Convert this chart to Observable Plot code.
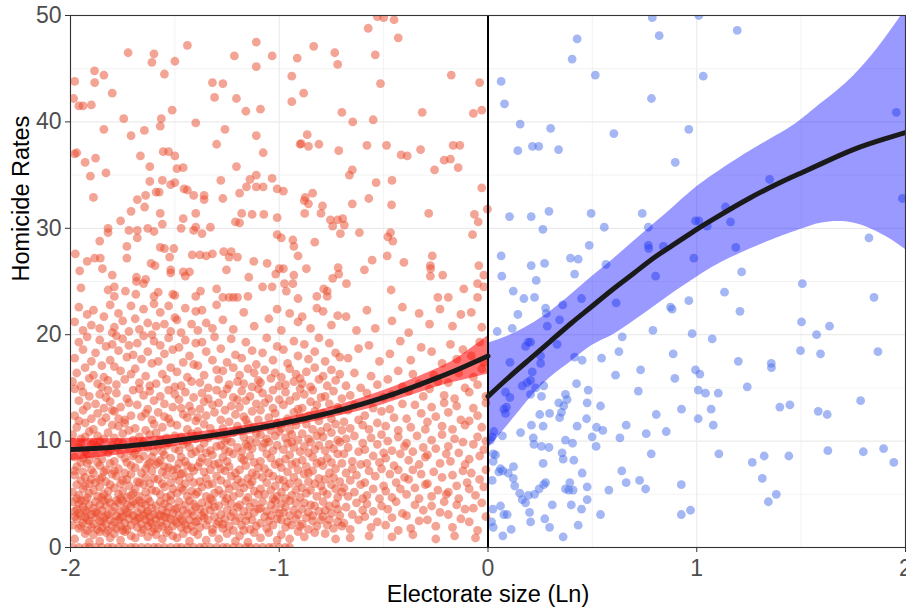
<!DOCTYPE html>
<html><head><meta charset="utf-8">
<script src="https://cdn.jsdelivr.net/npm/d3@7"></script>
<script src="https://cdn.jsdelivr.net/npm/@observablehq/plot@0.6"></script>
<style>body{margin:0;background:#fff}</style>
</head><body><div id="chart"></div>
<script>
const xTicks = [-2, -1, 0, 1, 2];
const yTicks = [0, 10, 20, 30, 40, 50];
const xMinor = [-1.5, -0.5, 0.5, 1.5];
const yMinor = [5, 15, 25, 35, 45];
const xTitle = "Electorate size (Ln)";
const yTitle = "Homicide Rates";

// red group (x < 0), sparse upper part
const redUpper = [
[-1.98,43.8],[-1.985,42.2],[-1.96,41.5],[-1.94,41.5],[-1.885,44.8],[-1.884,43.7],[-1.90,41.6],[-1.84,44.4],[-1.80,42.7],[-1.724,46.5],[-1.745,40.3],[-1.84,39.3],[-1.71,38.7],[-1.646,39.2],[-1.61,45.6],[-1.60,46.4],[-1.55,44.5],[-1.565,40.3],[-1.57,39.6],[-1.513,41.1],[-1.50,45.7],[-1.44,47.2],[-1.40,39.9],[-1.32,43.7],[-1.31,42.3],[-1.27,43.6],[-1.26,39.3],[-1.30,37.9],[-1.215,46.2],[-1.205,42.2],[-1.16,41.0],[-1.11,47.5],[-1.11,45.2],[-1.09,41.2],[-1.11,38.7],[-1.034,46.2],[-0.94,44.3],[-0.94,41.9],[-0.914,46.0],[-0.90,37.9],
[-1.98,37.0],[-1.97,37.1],[-1.93,36.2],[-1.88,36.6],[-1.83,35.2],[-1.905,34.9],[-1.89,32.9],[-1.665,36.8],[-1.62,35.8],[-1.556,37.2],[-1.53,37.2],[-1.50,36.8],[-1.49,35.6],[-1.46,35.7],[-1.62,34.4],[-1.56,34.5],[-1.52,34.1],[-1.50,34.3],[-1.59,33.4],[-1.575,33.4],[-1.64,33.1],[-1.68,32.7],[-1.645,32.0],[-1.71,31.6],[-1.57,31.4],[-1.76,30.7],[-1.82,30.0],[-1.82,29.6],[-1.72,29.8],[-1.68,29.8],[-1.68,29.1],[-1.63,30.0],[-1.60,29.7],[-1.56,30.4],[-1.456,33.7],[-1.44,33.6],[-1.41,33.1],[-1.36,33.1],[-1.36,32.7],[-1.40,31.4],[-1.46,30.9],[-1.47,30.0],[-1.41,29.8],[-1.40,30.1],[-1.37,29.5],[-1.33,30.1],[-1.28,34.5],[-1.27,32.8],[-1.205,35.8],[-1.19,33.3],[-1.157,33.9],[-1.14,34.6],[-1.11,35.0],[-1.11,33.9],[-1.077,37.1],[-1.077,33.9],[-1.034,34.7],[-1.01,33.7],[-0.98,33.5],[-1.18,31.4],[-1.13,31.3],[-1.074,31.3],[-1.21,30.6],[-1.19,30.5],[-1.01,31.0],[-1.01,29.4],[-0.99,29.1],[-0.935,28.9],[-0.93,28.3],[-0.91,27.4],
[-1.977,27.6],[-1.956,26.0],[-1.92,26.9],[-1.884,27.2],[-1.857,27.2],[-1.86,28.8],[-1.847,26.2],[-1.80,25.6],[-1.95,24.4],[-1.82,24.2],[-1.79,24.5],[-1.79,23.6],[-1.737,24.1],[-1.73,27.2],[-1.73,28.3],[-1.684,25.4],[-1.684,25.0],[-1.65,24.8],[-1.64,25.2],[-1.687,23.8],[-1.614,26.7],[-1.595,26.5],[-1.57,28.2],[-1.55,28.1],[-1.525,27.3],[-1.52,26.1],[-1.52,25.8],[-1.505,28.1],[-1.58,24.0],[-1.60,23.6],[-1.51,23.8],[-1.50,23.7],[-1.46,25.9],[-1.43,25.9],[-1.45,25.5],[-1.417,27.5],[-1.38,27.5],[-1.35,27.4],[-1.32,27.6],[-1.377,24.1],[-1.40,23.6],[-1.30,24.3],[-1.266,27.8],[-1.253,26.1],[-1.23,27.8],[-1.24,27.3],[-1.20,27.3],[-1.146,25.4],[-1.122,26.9],[-1.22,23.5],[-1.20,23.5],[-1.15,23.6],[-1.08,24.5],[-1.058,26.7],[-1.034,24.5],[-1.017,25.7],[-1.00,26.2],[-0.98,26.2],[-0.975,24.8],[-0.935,24.8],[-0.966,24.1],[-0.93,25.6],[-1.27,23.5],[-1.24,23.5],
[-0.53,49.9],[-0.50,49.8],[-0.45,49.6],[-0.574,48.8],[-0.43,47.9],[-0.835,47.1],[-0.734,46.5],[-0.72,45.4],[-0.54,46.3],[-0.883,42.7],[-0.70,40.9],[-0.648,40.0],[-0.55,40.2],[-0.515,43.6],[-0.176,44.4],[-0.04,43.7],[-0.315,40.9],[-0.07,40.8],[-0.03,41.1],[-0.866,38.8],[-0.895,37.95],[-0.86,37.7],[-0.81,37.9],[-0.715,37.3],[-0.58,37.8],[-0.486,37.8],[-0.416,36.9],[-0.387,36.8],[-0.323,37.4],[-0.256,35.5],[-0.21,36.4],[-0.18,36.5],[-0.167,37.8],[-0.135,37.8],[-0.143,35.7],[-0.664,35.0],[-0.65,35.5],[-0.536,34.3],[-0.46,34.5],[-0.84,33.3],[-0.875,32.9],[-0.88,32.6],[-0.86,32.3],[-0.793,32.1],[-0.878,31.4],[-0.80,31.4],[-0.65,32.3],[-0.571,32.8],[-0.462,32.2],[-0.755,30.8],[-0.744,30.2],[-0.72,30.8],[-0.696,30.9],[-0.688,30.3],[-0.707,29.5],[-0.616,29.6],[-0.467,29.6],[-0.48,29.2],[-0.456,28.8],[-0.284,31.4],[-0.03,33.8],[-0.065,31.3],[-0.047,30.6],[-0.003,31.8],[-0.074,29.4],[-0.83,28.7],[-0.87,26.2],[-0.718,26.3],[-0.715,25.7],[-0.744,25.3],[-0.678,24.8],[-0.592,26.1],[-0.555,27.0],[-0.483,27.4],[-0.403,26.8],[-0.267,27.4],[-0.276,26.5],[-0.275,26.2],[-0.276,25.5],[-0.217,25.6],[-0.044,26.5],[-0.02,25.6],[-0.05,24.8],[-0.02,24.5],[-0.787,24.3],[-0.77,24.1],[-0.464,24.2],[-0.116,24.3],[-0.24,23.5],[-0.19,23.5],[-0.05,23.5],[-0.82,23.6],[-0.77,23.6],[-0.91,23.4]
];

// red group, dense lower part (below ~23)
const redLower = [
[-1.98,0.8],[-1.93,1.3],[-1.91,0.5],
[-1.99,2.1],[-1.98,3.4],[-1.97,2.7],[-1.96,4.1],[-1.96,1.8],[-1.95,3.0],[-1.94,2.3],[-1.94,3.8],[-1.93,4.4],[-1.93,2.8],[-1.92,1.6],[-1.92,3.3],[-1.91,2.5],[-1.91,4.0],[-1.90,3.1],[-1.99,4.3],[-1.97,3.6],[-1.95,2.0],[-1.93,3.5],[-1.92,2.6],[-1.98,2.9],[-1.95,4.4],[-1.90,1.9],[-1.96,3.2],
[-1.99,5.2],[-1.98,6.8],[-1.98,8.5],[-1.97,5.9],[-1.97,7.6],[-1.96,9.4],[-1.96,4.9],[-1.95,6.3],[-1.95,8.0],[-1.94,7.1],[-1.94,5.5],[-1.93,9.0],[-1.93,6.6],[-1.92,4.7],[-1.92,7.9],[-1.92,8.8],[-1.91,6.0],[-1.91,5.1],[-1.90,7.3],[-1.90,9.7],[-1.99,9.9],[-1.97,4.6],[-1.95,9.8],[-1.94,8.4],[-1.93,5.8],[-1.91,8.2],[-1.90,6.4],[-1.98,7.2],
[-1.99,10.6],[-1.98,12.4],[-1.97,11.3],[-1.96,13.8],[-1.95,10.2],[-1.94,12.9],[-1.94,14.6],[-1.93,11.7],[-1.92,13.3],[-1.91,10.9],[-1.91,14.2],[-1.90,12.1],[-1.98,14.9],[-1.96,11.9],[-1.93,10.4],
[-1.99,15.6],[-1.98,17.8],[-1.97,16.4],[-1.96,19.3],[-1.95,15.2],[-1.94,18.6],[-1.93,16.9],[-1.92,19.8],[-1.91,15.9],[-1.90,17.5],
[-1.98,21.2],[-1.96,22.6],[-1.94,20.4],[-1.92,21.9],[-1.90,20.9],
[-1.89,1.2],[-1.86,0.6],[-1.83,1.4],[-1.81,0.9],
[-1.89,2.2],[-1.89,3.7],[-1.88,2.9],[-1.88,4.3],[-1.87,1.7],[-1.87,3.2],[-1.86,2.5],[-1.86,4.0],[-1.85,3.5],[-1.85,1.9],[-1.84,2.8],[-1.84,4.4],[-1.83,2.2],[-1.83,3.9],[-1.82,3.1],[-1.82,1.6],[-1.81,2.6],[-1.81,4.2],[-1.80,3.4],[-1.80,2.0],[-1.88,3.3],[-1.85,2.4],[-1.83,3.0],[-1.86,1.5],
[-1.89,5.4],[-1.89,7.0],[-1.88,8.7],[-1.88,6.1],[-1.87,9.5],[-1.87,4.8],[-1.86,7.7],[-1.86,5.7],[-1.85,8.3],[-1.85,6.6],[-1.84,9.1],[-1.84,5.0],[-1.83,7.3],[-1.83,6.2],[-1.82,8.9],[-1.82,4.6],[-1.81,5.9],[-1.81,7.9],[-1.80,9.6],[-1.80,6.9],[-1.89,9.9],[-1.87,8.0],[-1.85,4.7],[-1.84,7.1],[-1.82,5.3],[-1.81,9.2],[-1.86,6.4],
[-1.89,11.1],[-1.88,13.5],[-1.87,10.5],[-1.87,12.6],[-1.86,14.4],[-1.85,11.8],[-1.84,10.2],[-1.84,13.1],[-1.83,12.2],[-1.82,14.8],[-1.82,10.8],[-1.81,13.7],[-1.80,11.5],[-1.80,12.9],[-1.86,10.0],[-1.83,14.1],
[-1.89,16.2],[-1.88,18.3],[-1.87,15.4],[-1.86,19.5],[-1.85,17.1],[-1.84,16.0],[-1.83,18.9],[-1.82,15.7],[-1.81,17.6],[-1.80,19.1],[-1.85,15.1],
[-1.89,22.3],[-1.86,20.6],[-1.84,21.7],[-1.81,22.8],[-1.80,20.2],
[-1.79,1.3],[-1.76,0.7],[-1.74,1.5],[-1.71,1.1],
[-1.79,2.4],[-1.79,3.8],[-1.78,3.0],[-1.78,1.8],[-1.77,4.2],[-1.77,2.6],[-1.76,3.4],[-1.76,2.0],[-1.75,4.4],[-1.75,2.9],[-1.74,3.6],[-1.74,2.3],[-1.73,4.0],[-1.73,1.7],[-1.72,3.2],[-1.72,2.7],[-1.71,3.9],[-1.71,2.1],[-1.70,3.0],[-1.70,4.3],[-1.78,4.4],[-1.76,2.8],[-1.73,3.3],[-1.75,1.6],
[-1.79,5.6],[-1.79,8.1],[-1.78,6.7],[-1.78,9.4],[-1.77,5.0],[-1.77,7.4],[-1.76,8.8],[-1.76,6.0],[-1.75,9.8],[-1.75,5.3],[-1.74,7.0],[-1.74,8.4],[-1.73,6.4],[-1.73,4.7],[-1.72,9.1],[-1.72,5.8],[-1.71,7.7],[-1.71,6.9],[-1.70,8.6],[-1.70,5.1],[-1.79,7.2],[-1.77,9.9],[-1.75,6.3],[-1.73,8.0],[-1.71,4.9],[-1.76,4.6],
[-1.79,10.3],[-1.79,12.8],[-1.78,14.5],[-1.77,11.4],[-1.76,13.2],[-1.75,10.7],[-1.74,12.0],[-1.73,14.0],[-1.72,11.0],[-1.72,13.6],[-1.71,12.4],[-1.70,10.1],[-1.70,14.8],[-1.77,12.1],[-1.74,11.7],
[-1.79,17.0],[-1.78,15.3],[-1.77,18.5],[-1.76,16.6],[-1.75,19.6],[-1.74,15.8],[-1.73,17.9],[-1.72,19.0],[-1.71,16.3],[-1.70,18.1],[-1.78,19.9],
[-1.79,20.7],[-1.77,22.0],[-1.75,21.3],[-1.72,20.3],[-1.71,22.7],
[-1.69,0.9],[-1.66,1.4],[-1.63,1.0],[-1.61,1.5],
[-1.69,2.5],[-1.69,4.1],[-1.68,3.3],[-1.68,1.9],[-1.67,2.8],[-1.67,4.4],[-1.66,3.6],[-1.66,2.2],[-1.65,3.0],[-1.65,1.7],[-1.64,4.0],[-1.64,2.6],[-1.63,3.4],[-1.63,2.0],[-1.62,4.3],[-1.62,2.9],[-1.61,3.7],[-1.61,2.3],[-1.60,3.1],[-1.60,1.8],[-1.68,2.7],[-1.66,4.2],[-1.64,3.2],[-1.62,2.4],
[-1.69,5.5],[-1.69,7.5],[-1.68,9.2],[-1.68,6.2],[-1.67,8.3],[-1.67,4.8],[-1.66,7.0],[-1.66,9.7],[-1.65,5.9],[-1.65,8.6],[-1.64,6.6],[-1.64,5.2],[-1.63,7.8],[-1.63,9.4],[-1.62,6.0],[-1.62,8.0],[-1.61,5.4],[-1.61,7.2],[-1.60,9.0],[-1.60,6.5],[-1.69,8.8],[-1.67,6.1],[-1.65,9.9],[-1.63,4.6],[-1.61,8.5],[-1.64,7.4],
[-1.69,11.2],[-1.68,13.4],[-1.67,10.4],[-1.66,12.3],[-1.65,14.3],[-1.64,11.0],[-1.63,13.0],[-1.62,10.6],[-1.62,14.7],[-1.61,12.0],[-1.60,13.8],[-1.60,11.6],[-1.67,14.9],[-1.64,12.6],
[-1.69,16.8],[-1.68,19.2],[-1.67,15.5],[-1.66,17.7],[-1.65,19.9],[-1.64,16.1],[-1.63,18.4],[-1.62,15.2],[-1.61,17.3],[-1.60,19.4],
[-1.69,21.5],[-1.67,20.5],[-1.65,22.4],[-1.63,21.1],[-1.61,20.0],[-1.60,22.9],
[-1.59,1.2],[-1.56,0.8],[-1.54,1.4],[-1.51,1.1],
[-1.59,2.6],[-1.59,3.9],[-1.58,3.1],[-1.58,1.8],[-1.57,4.3],[-1.57,2.4],[-1.56,3.5],[-1.56,2.0],[-1.55,2.9],[-1.55,4.1],[-1.54,3.3],[-1.54,2.2],[-1.53,3.8],[-1.53,1.6],[-1.52,2.7],[-1.52,4.4],[-1.51,3.2],[-1.51,2.0],[-1.50,3.6],[-1.50,2.5],[-1.57,3.0],[-1.54,2.8],
[-1.59,5.3],[-1.59,7.8],[-1.58,9.5],[-1.58,6.4],[-1.57,8.2],[-1.57,5.0],[-1.56,7.1],[-1.56,9.0],[-1.55,5.7],[-1.55,8.7],[-1.54,6.8],[-1.54,4.7],[-1.53,7.5],[-1.53,9.8],[-1.52,6.1],[-1.52,8.4],[-1.51,5.5],[-1.51,7.3],[-1.50,9.3],[-1.50,6.7],[-1.58,8.0],[-1.56,6.0],[-1.54,9.6],[-1.52,4.9],[-1.55,7.6],
[-1.59,10.8],[-1.58,12.7],[-1.57,14.2],[-1.56,11.3],[-1.55,13.5],[-1.54,10.3],[-1.53,12.1],[-1.53,14.8],[-1.52,11.7],[-1.51,13.2],[-1.50,10.5],[-1.50,14.4],[-1.57,10.1],[-1.55,12.3],
[-1.59,15.4],[-1.58,17.5],[-1.57,19.0],[-1.56,16.3],[-1.55,18.2],[-1.54,15.8],[-1.53,19.7],[-1.52,16.9],[-1.51,18.6],[-1.50,15.1],
[-1.59,20.8],[-1.57,22.1],[-1.55,21.0],[-1.53,22.7],[-1.52,20.3],[-1.50,21.6],
[-1.49,0.9],[-1.46,1.3],[-1.43,0.6],[-1.41,1.5],
[-1.49,2.3],[-1.49,3.7],[-1.48,3.0],[-1.48,4.3],[-1.47,1.9],[-1.47,2.7],[-1.46,3.5],[-1.45,2.1],[-1.45,4.0],[-1.44,3.2],[-1.44,1.7],[-1.43,2.6],[-1.43,4.4],[-1.42,3.4],[-1.42,2.0],[-1.41,3.0],[-1.41,4.1],[-1.40,2.4],[-1.40,3.8],[-1.46,2.5],
[-1.49,5.1],[-1.49,7.4],[-1.48,9.1],[-1.48,6.3],[-1.47,8.5],[-1.47,5.6],[-1.46,7.0],[-1.46,9.7],[-1.45,6.0],[-1.45,8.1],[-1.44,4.8],[-1.44,7.7],[-1.43,9.4],[-1.43,6.6],[-1.42,5.3],[-1.42,8.8],[-1.41,7.2],[-1.41,6.1],[-1.40,9.0],[-1.40,5.0],[-1.48,7.9],[-1.46,5.4],[-1.44,9.9],[-1.42,7.5],[-1.47,6.9],
[-1.49,11.5],[-1.48,13.9],[-1.47,10.4],[-1.46,12.5],[-1.45,14.6],[-1.44,11.1],[-1.43,13.3],[-1.42,10.7],[-1.42,12.8],[-1.41,14.1],[-1.40,11.9],[-1.40,10.2],[-1.47,13.1],[-1.44,12.2],
[-1.49,16.5],[-1.48,18.8],[-1.47,15.2],[-1.46,17.4],[-1.45,19.5],[-1.44,16.0],[-1.43,18.0],[-1.42,15.6],[-1.41,17.2],[-1.40,19.2],
[-1.49,21.4],[-1.47,20.2],[-1.45,22.5],[-1.42,21.0],[-1.40,22.2],
[-1.39,1.2],[-1.35,0.7],[-1.32,1.4],
[-1.39,2.5],[-1.38,3.6],[-1.38,1.9],[-1.37,4.2],[-1.36,2.8],[-1.36,3.3],[-1.35,2.1],[-1.34,4.0],[-1.34,2.6],[-1.33,3.5],[-1.32,1.7],[-1.32,4.4],[-1.31,2.9],[-1.31,3.8],[-1.30,2.2],[-1.37,3.0],
[-1.39,5.2],[-1.39,7.6],[-1.38,9.3],[-1.38,6.2],[-1.37,8.4],[-1.37,5.7],[-1.36,7.1],[-1.36,9.8],[-1.35,6.5],[-1.35,4.8],[-1.34,8.0],[-1.34,5.9],[-1.33,9.1],[-1.33,7.3],[-1.32,6.0],[-1.32,8.7],[-1.31,5.1],[-1.31,7.8],[-1.30,9.5],[-1.30,6.7],[-1.38,8.0],[-1.35,8.9],[-1.33,4.6],
[-1.39,10.9],[-1.38,13.0],[-1.37,14.5],[-1.36,11.6],[-1.35,12.4],[-1.34,10.3],[-1.34,14.0],[-1.33,11.2],[-1.32,13.4],[-1.31,10.6],[-1.31,12.7],[-1.30,14.8],[-1.36,13.7],[-1.39,12.2],
[-1.39,17.1],[-1.38,15.5],[-1.37,19.3],[-1.36,16.2],[-1.35,18.4],[-1.34,15.0],[-1.32,17.6],[-1.31,19.8],[-1.30,16.7],
[-1.39,20.4],[-1.37,22.3],[-1.35,21.1],[-1.32,20.6],[-1.30,22.8],
[-1.29,0.8],[-1.25,1.3],[-1.21,0.6],
[-1.29,2.4],[-1.29,3.9],[-1.28,3.1],[-1.27,1.8],[-1.26,4.3],[-1.26,2.7],[-1.25,3.5],[-1.24,2.0],[-1.23,4.1],[-1.23,2.9],[-1.22,3.3],[-1.22,1.6],[-1.21,2.5],[-1.20,3.8],[-1.27,2.2],
[-1.29,5.4],[-1.29,7.9],[-1.28,9.6],[-1.28,6.3],[-1.27,8.5],[-1.27,5.0],[-1.26,7.2],[-1.26,9.2],[-1.25,6.0],[-1.25,8.1],[-1.24,5.5],[-1.24,7.6],[-1.23,9.9],[-1.23,6.7],[-1.22,4.8],[-1.22,8.8],[-1.21,7.0],[-1.21,5.8],[-1.20,9.4],[-1.20,6.4],[-1.28,7.4],[-1.25,4.6],[-1.24,9.0],
[-1.29,10.5],[-1.29,13.6],[-1.28,12.0],[-1.27,14.4],[-1.27,11.2],[-1.26,12.9],[-1.25,10.2],[-1.25,14.9],[-1.24,11.8],[-1.23,13.3],[-1.22,10.8],[-1.22,14.1],[-1.21,12.5],[-1.20,11.4],[-1.20,13.9],[-1.26,10.0],
[-1.29,15.8],[-1.27,16.6],[-1.24,15.3],[-1.22,16.9],[-1.20,15.6],[-1.28,18.7],[-1.25,17.4],[-1.23,19.6],[-1.21,18.1],[-1.27,21.4],[-1.22,20.5],
[-1.19,1.1],[-1.15,0.5],[-1.12,1.4],
[-1.19,2.8],[-1.19,4.0],[-1.18,2.1],[-1.17,3.4],[-1.16,4.4],[-1.16,2.5],[-1.15,3.0],[-1.14,1.7],[-1.14,3.8],[-1.13,2.6],[-1.12,3.3],[-1.12,4.2],[-1.11,2.0],[-1.10,3.6],[-1.17,1.6],
[-1.19,5.1],[-1.19,7.3],[-1.18,9.0],[-1.18,6.1],[-1.17,8.2],[-1.17,5.6],[-1.16,7.7],[-1.16,9.7],[-1.15,6.5],[-1.15,4.7],[-1.14,8.6],[-1.14,5.9],[-1.13,7.0],[-1.13,9.3],[-1.12,5.3],[-1.12,8.0],[-1.11,6.8],[-1.11,9.9],[-1.10,5.0],[-1.10,7.5],[-1.18,8.4],[-1.15,9.5],[-1.13,6.2],
[-1.19,11.0],[-1.19,13.2],[-1.18,14.7],[-1.17,10.4],[-1.17,12.3],[-1.16,13.8],[-1.15,11.6],[-1.14,10.1],[-1.14,14.2],[-1.13,12.8],[-1.12,11.3],[-1.11,13.5],[-1.11,10.7],[-1.10,12.0],[-1.10,14.9],[-1.16,12.0],
[-1.19,16.2],[-1.17,15.4],[-1.15,16.8],[-1.13,15.1],[-1.12,16.4],[-1.10,15.7],[-1.18,17.8],[-1.16,19.3],[-1.13,18.5],[-1.11,17.2],[-1.17,22.1],[-1.12,20.8],
[-1.09,0.9],[-1.05,1.4],[-1.01,0.7],
[-1.09,2.3],[-1.09,3.7],[-1.08,4.3],[-1.07,2.9],[-1.06,1.8],[-1.06,3.4],[-1.05,2.5],[-1.04,4.0],[-1.04,3.0],[-1.03,2.1],[-1.02,3.6],[-1.02,4.4],[-1.01,2.7],[-1.00,3.2],
[-1.09,5.5],[-1.09,8.1],[-1.08,6.6],[-1.08,9.4],[-1.07,7.4],[-1.07,5.0],[-1.06,8.8],[-1.06,6.1],[-1.05,9.9],[-1.05,7.0],[-1.04,5.4],[-1.04,8.4],[-1.03,6.7],[-1.03,9.1],[-1.02,5.8],[-1.02,7.8],[-1.01,4.8],[-1.01,9.6],[-1.00,6.4],[-1.00,8.0],[-1.07,9.8],[-1.03,4.6],
[-1.09,10.6],[-1.09,12.9],[-1.08,14.5],[-1.07,11.4],[-1.07,13.6],[-1.06,10.2],[-1.05,12.2],[-1.05,14.0],[-1.04,11.0],[-1.03,13.1],[-1.03,14.8],[-1.02,10.5],[-1.02,12.6],[-1.01,11.7],[-1.00,13.9],[-1.00,10.9],
[-1.09,15.5],[-1.07,16.7],[-1.04,15.9],[-1.02,16.4],[-1.00,15.2],[-1.08,18.3],[-1.06,19.7],[-1.03,17.6],[-1.01,18.9],[-1.05,21.5],[-1.01,22.4],
[-0.99,1.2],[-0.95,0.8],[-0.91,1.5],
[-0.99,2.6],[-0.99,4.1],[-0.98,3.3],[-0.97,1.9],[-0.97,3.8],[-0.96,2.4],[-0.95,4.4],[-0.95,3.0],[-0.94,2.1],[-0.93,3.5],[-0.92,2.7],[-0.92,4.2],[-0.91,3.1],[-0.90,2.0],
[-0.99,5.2],[-0.99,7.5],[-0.98,9.2],[-0.98,6.3],[-0.97,8.3],[-0.97,5.7],[-0.96,7.1],[-0.96,9.8],[-0.95,6.0],[-0.95,8.7],[-0.94,4.9],[-0.94,7.8],[-0.93,6.6],[-0.93,9.4],[-0.92,5.4],[-0.92,8.0],[-0.91,7.3],[-0.91,6.1],[-0.90,9.0],[-0.90,4.7],[-0.97,4.6],[-0.94,9.9],
[-0.99,11.2],[-0.98,13.4],[-0.97,10.3],[-0.97,14.6],[-0.96,12.1],[-0.95,11.0],[-0.95,13.8],[-0.94,10.6],[-0.93,12.7],[-0.92,14.2],[-0.92,11.5],[-0.91,10.1],[-0.91,13.0],[-0.90,14.9],[-0.90,12.3],
[-0.99,16.0],[-0.97,15.3],[-0.95,16.8],[-0.93,15.6],[-0.92,16.3],[-0.90,15.9],[-0.98,18.6],[-0.96,17.3],[-0.93,19.4],[-0.91,18.0],[-0.99,20.4],[-0.95,22.0],[-0.91,21.2],
[-0.88,1.0],[-0.83,1.4],
[-0.89,2.2],[-0.89,3.6],[-0.88,4.2],[-0.87,2.8],[-0.86,3.3],[-0.86,1.7],[-0.85,4.0],[-0.84,2.5],[-0.84,3.0],[-0.83,3.9],[-0.82,2.0],[-0.81,3.4],[-0.80,2.6],
[-0.89,5.6],[-0.89,8.2],[-0.88,6.9],[-0.88,9.5],[-0.87,5.1],[-0.87,7.6],[-0.86,8.9],[-0.86,6.2],[-0.85,9.9],[-0.85,5.4],[-0.84,7.2],[-0.84,8.5],[-0.83,6.0],[-0.83,9.2],[-0.82,7.9],[-0.82,4.8],[-0.81,6.5],[-0.81,9.6],[-0.80,5.8],[-0.80,8.1],[-0.86,7.0],
[-0.89,10.7],[-0.89,13.1],[-0.88,14.4],[-0.87,11.6],[-0.86,12.4],[-0.86,10.2],[-0.85,13.7],[-0.84,11.1],[-0.84,14.8],[-0.83,12.8],[-0.82,10.5],[-0.82,13.4],[-0.81,11.9],[-0.80,14.1],[-0.80,10.9],
[-0.89,15.4],[-0.87,16.5],[-0.85,15.1],[-0.83,16.9],[-0.81,15.8],[-0.88,19.1],[-0.86,17.7],[-0.83,18.4],[-0.81,19.7],[-0.89,21.7],[-0.85,20.6],[-0.82,22.5],
[-0.78,1.3],[-0.73,0.8],
[-0.79,2.9],[-0.79,4.3],[-0.78,3.5],[-0.77,2.1],[-0.76,3.9],[-0.76,2.6],[-0.75,3.2],[-0.74,1.8],[-0.73,4.1],[-0.72,2.4],[-0.72,3.6],[-0.71,3.0],[-0.70,2.0],
[-0.79,5.3],[-0.79,7.7],[-0.78,9.1],[-0.78,6.4],[-0.77,8.4],[-0.77,5.0],[-0.76,7.0],[-0.76,9.7],[-0.75,5.9],[-0.75,8.0],[-0.74,6.6],[-0.74,9.3],[-0.73,5.5],[-0.73,7.4],[-0.72,8.8],[-0.72,4.7],[-0.71,6.2],[-0.71,9.9],[-0.70,7.9],[-0.70,5.2],
[-0.79,10.4],[-0.79,12.6],[-0.78,14.2],[-0.77,11.3],[-0.76,13.5],[-0.75,10.8],[-0.75,12.1],[-0.74,14.7],[-0.73,11.6],[-0.72,13.2],[-0.72,10.1],[-0.71,12.9],[-0.70,14.0],[-0.70,11.0],
[-0.79,16.1],[-0.77,15.2],[-0.75,16.7],[-0.73,15.7],[-0.71,16.3],[-0.78,17.5],[-0.76,19.2],[-0.73,18.3],[-0.71,17.9],[-0.79,22.2],[-0.75,20.9],[-0.72,21.8],
[-0.66,0.9],[-0.69,2.3],[-0.68,3.8],[-0.66,1.7],[-0.65,3.1],[-0.63,4.2],[-0.62,2.6],[-0.60,3.5],
[-0.69,5.6],[-0.68,7.0],[-0.67,4.8],[-0.66,6.3],[-0.65,7.4],[-0.64,5.2],[-0.63,6.8],[-0.61,5.9],[-0.60,4.6],
[-0.69,8.8],[-0.68,10.2],[-0.67,9.4],[-0.65,8.1],[-0.64,10.5],[-0.62,9.0],[-0.61,7.8],[-0.60,9.8],
[-0.69,11.8],[-0.67,12.9],[-0.66,11.2],[-0.64,13.4],[-0.62,12.0],[-0.60,11.5],
[-0.68,15.2],[-0.66,14.3],[-0.64,16.4],[-0.61,15.0],[-0.67,17.8],[-0.62,18.7],[-0.68,21.7],[-0.63,20.4],
[-0.57,1.1],[-0.59,2.9],[-0.58,4.1],[-0.56,1.9],[-0.55,3.4],[-0.53,2.4],[-0.51,3.9],
[-0.59,6.1],[-0.58,4.9],[-0.57,7.2],[-0.55,5.5],[-0.54,6.7],[-0.52,4.6],[-0.51,7.4],[-0.50,5.8],
[-0.59,9.2],[-0.58,7.9],[-0.56,10.3],[-0.55,8.6],[-0.53,9.7],[-0.52,8.0],[-0.51,10.6],[-0.50,8.9],
[-0.59,12.4],[-0.57,11.1],[-0.55,13.1],[-0.53,11.7],[-0.51,12.8],
[-0.58,14.5],[-0.56,16.1],[-0.53,15.3],[-0.50,14.1],[-0.57,19.0],[-0.52,17.5],[-0.58,22.3],[-0.54,20.6],
[-0.46,1.0],[-0.49,2.1],[-0.48,3.6],[-0.46,2.8],[-0.44,4.3],[-0.43,1.6],[-0.41,3.2],
[-0.49,5.3],[-0.47,6.9],[-0.46,4.7],[-0.44,6.1],[-0.43,7.3],[-0.42,5.5],[-0.40,6.6],
[-0.49,8.4],[-0.48,10.0],[-0.46,9.1],[-0.45,7.7],[-0.43,10.4],[-0.42,8.8],[-0.40,9.5],
[-0.49,11.4],[-0.47,13.0],[-0.45,12.2],[-0.43,11.0],[-0.41,13.5],
[-0.48,15.8],[-0.46,14.4],[-0.43,16.6],[-0.41,15.1],[-0.47,18.2],[-0.42,19.4],[-0.46,21.3],[-0.41,22.6],
[-0.36,1.2],[-0.39,3.0],[-0.37,1.8],[-0.35,4.0],[-0.33,2.5],[-0.31,3.5],
[-0.39,5.0],[-0.38,6.4],[-0.36,7.3],[-0.35,5.6],[-0.33,4.6],[-0.32,6.9],[-0.30,5.9],
[-0.39,9.8],[-0.38,8.2],[-0.36,9.0],[-0.34,10.5],[-0.33,7.8],[-0.31,9.4],[-0.30,8.5],
[-0.39,12.1],[-0.37,11.3],[-0.35,13.4],[-0.32,12.6],[-0.30,11.1],
[-0.38,14.7],[-0.36,16.3],[-0.33,15.4],[-0.31,14.2],[-0.37,17.6],[-0.32,18.8],[-0.38,20.2],[-0.33,22.0],
[-0.25,0.8],[-0.29,2.6],[-0.27,3.9],[-0.25,2.0],[-0.23,3.3],[-0.21,4.3],
[-0.29,6.0],[-0.27,4.8],[-0.26,7.1],[-0.24,5.4],[-0.22,6.6],[-0.20,5.0],
[-0.29,8.7],[-0.27,10.1],[-0.25,9.3],[-0.23,7.9],[-0.22,10.6],[-0.20,8.8],
[-0.29,11.8],[-0.27,13.2],[-0.25,12.3],[-0.22,11.4],[-0.21,13.6],
[-0.28,14.9],[-0.26,16.2],[-0.24,15.6],[-0.21,14.3],[-0.27,18.4],[-0.22,17.3],[-0.28,21.0],[-0.23,22.4],
[-0.16,1.1],[-0.19,3.1],[-0.17,1.9],[-0.15,4.0],[-0.13,2.7],[-0.11,3.6],
[-0.19,5.2],[-0.17,6.8],[-0.15,5.8],[-0.14,4.6],[-0.12,7.2],[-0.10,6.1],
[-0.19,9.5],[-0.18,8.1],[-0.16,10.2],[-0.14,8.9],[-0.12,9.9],[-0.11,7.8],
[-0.19,12.7],[-0.17,11.1],[-0.15,13.3],[-0.13,12.0],[-0.11,11.5],
[-0.19,15.5],[-0.16,14.0],[-0.14,16.4],[-0.11,15.0],[-0.18,19.1],[-0.15,17.7],[-0.12,18.6],[-0.17,20.8],[-0.13,21.9],
[-0.06,0.9],[-0.09,2.4],[-0.07,3.7],[-0.05,1.6],[-0.03,4.2],[-0.01,2.9],
[-0.09,5.5],[-0.08,7.0],[-0.06,4.9],[-0.04,6.4],[-0.02,5.7],[-0.01,7.3],
[-0.09,8.3],[-0.07,9.7],[-0.05,10.4],[-0.04,8.6],[-0.02,9.2],[-0.01,10.0],
[-0.09,11.9],[-0.07,13.1],[-0.05,12.4],[-0.03,11.3],[-0.01,13.6],
[-0.09,14.6],[-0.07,16.0],[-0.05,15.3],[-0.03,16.8],[-0.01,14.2],[-0.08,18.0],[-0.04,19.3],[-0.02,17.4],[-0.08,22.1],[-0.03,20.7]
];

// red group points sitting at exactly 0 (half hidden under the axis)
const redZeroX = [-1.99,-1.96,-1.93,-1.91,-1.88,-1.85,-1.82,-1.80,-1.77,-1.74,-1.71,-1.69,-1.66,-1.63,-1.60,-1.58,-1.55,-1.52,-1.49,-1.47,-1.44,-1.41,-1.38,-1.36,-1.33,-1.30,-1.27,-1.25,-1.22,-1.19,-1.16,-1.14,-1.11,-1.08,-1.05,-1.03,-1.00,-0.97,-0.95];

// blue group (x > 0)
const bluePts = [
[0.787,49.8],[1.01,50.0],[0.427,47.8],[0.82,48.1],[1.194,48.6],[0.403,45.9],[0.063,43.8],[0.514,44.4],[1.031,44.3],[0.079,41.7],[0.783,42.2],[0.154,39.8],[0.30,39.4],[0.603,38.9],[0.962,39.3],[1.956,40.9],[0.143,37.3],[0.213,37.7],[0.243,37.7],[0.338,37.4],[0.897,36.2],[1.349,34.6],[1.985,32.8],[0.103,31.1],[0.207,31.1],[0.292,31.6],[0.494,31.4],[0.739,31.4],[0.263,29.9],[0.557,30.1],[0.768,30.1],[0.994,30.7],[1.01,30.7],[1.05,30.2],[1.138,32.0],[1.162,30.6],[1.825,29.1],[0.485,28.4],[0.768,28.4],[0.77,28.1],[0.84,28.3],[1.187,28.2],[0.063,27.4],[0.395,27.2],[0.432,27.1],[0.986,27.2],[0.207,26.5],[0.271,26.7],[0.565,26.6],[0.066,25.5],[0.415,25.7],[0.803,25.5],[1.215,25.9],[0.231,25.1],[1.506,24.8],[0.121,24.1],[1.133,24.0],[0.172,23.4],[0.223,23.5],[0.448,23.4],[0.614,23.0],[0.962,23.2],[1.849,23.5],
[0.276,22.5],[0.279,22.0],[0.358,22.8],[0.143,21.9],[0.044,20.3],[0.116,20.6],[0.284,20.8],[0.343,21.4],[0.874,22.6],[0.882,22.4],[1.207,22.2],[1.502,21.2],[1.636,20.8],[1.574,20.0],[0.79,20.4],[0.978,20.1],[1.074,19.6],[0.643,19.8],[0.193,19.3],[0.204,19.3],[0.18,18.9],[0.331,19.1],[1.497,18.5],[1.593,18.2],[1.868,18.4],[0.627,18.4],[0.887,18.2],[0.105,17.4],[0.252,17.3],[0.252,18.0],[0.415,17.9],[0.451,17.6],[0.544,17.8],[1.199,17.5],[1.357,17.3],[1.358,16.9],[0.731,16.7],[0.994,16.7],[1.015,16.3],[0.611,16.2],[0.895,15.9],[0.212,16.5],[0.164,15.2],[0.188,15.5],[0.204,15.7],[0.228,15.0],[0.267,15.2],[0.204,14.4],[0.084,14.6],[0.105,14.1],[0.424,15.4],[0.48,14.8],[0.72,14.7],[1.007,14.8],[1.042,14.5],[1.103,14.5],[1.242,15.1],[1.785,13.8],[0.371,14.4],[0.379,13.9],[0.256,14.2],[0.339,13.6],[0.363,13.3],[0.475,13.6],[0.539,13.3],[0.248,12.5],[0.295,12.6],[0.352,12.7],[0.343,12.2],[0.084,12.6],[0.089,13.2],[0.076,13.0],[0.927,13.0],[1.069,13.0],[0.806,12.5],[1.398,13.2],[1.446,13.4],[1.582,12.8],[1.625,12.5],[1.007,12.1],[1.079,11.5],[0.208,11.5],[0.264,11.4],[0.156,10.8],[0.427,11.4],[0.472,12.1],[0.52,11.3],[0.55,11.0],[0.662,11.5],[0.758,10.7],[0.854,10.9],[0.632,10.3],[0.499,10.4],[0.518,9.5],[0.217,10.3],[0.22,9.7],[0.256,9.5],[0.292,9.4],[0.371,10.1],[0.405,9.8],[0.028,10.9],[0.02,10.4],[0.012,10.1],[0.069,10.5],[0.025,8.8],[0.036,8.7],[0.355,8.9],[0.36,8.3],[0.411,8.2],[0.782,8.8],[1.106,8.8],[1.323,8.6],[1.441,8.6],[1.628,9.1],[1.798,9.0],[1.895,9.3],[1.944,8.0],[1.266,8.0],[0.264,7.9],[0.025,8.1],[0.122,7.6],[0.06,7.4],[0.052,7.1],[0.071,7.2],[0.097,7.0],[0.121,6.5],[0.02,6.3],[0.128,5.8],[0.451,7.0],[0.641,7.2],[0.662,6.1],[0.726,6.3],[0.755,5.5],[0.926,5.9],[1.314,6.5],[0.392,6.1],[0.387,5.4],[0.276,6.1],[0.267,5.9],[0.245,5.5],[0.371,5.5],[0.408,5.4],[0.475,5.7],[0.579,5.4],[0.152,5.1],[0.164,4.5],[0.18,4.2],[0.193,4.9],[0.223,5.0],[0.308,4.0],[0.399,4.0],[0.475,4.5],[0.448,3.6],[1.381,5.0],[1.343,4.3],[0.023,3.6],[0.06,3.9],[0.076,3.1],[0.092,3.1],[0.199,3.3],[0.017,2.4],[0.025,1.9],[0.204,2.4],[0.272,2.7],[0.295,1.9],[0.111,1.7],[0.071,1.1],[0.36,1.0],[0.432,2.1],[0.539,3.1],[0.926,3.1],[0.97,3.5]
];

// smooth fits with confidence bands
const redFitX  = [-2, -1.75, -1.5, -1.25, -1, -0.75, -0.5, -0.25, -0.125, 0];
const redFit   = [9.2, 9.5, 10.05, 10.75, 11.6, 12.7, 14.1, 15.9, 16.9, 18.0];
const redLow   = [8.15, 8.75, 9.5, 10.3, 11.15, 12.2, 13.45, 15.05, 15.7, 16.3];
const redHigh  = [10.25, 10.25, 10.6, 11.2, 12.05, 13.2, 14.75, 16.75, 18.1, 19.9];

const blueFitX = [0, 0.1, 0.2, 0.3, 0.4, 0.5, 0.6, 0.7, 0.8, 0.9, 1.0, 1.1, 1.25, 1.4, 1.5, 1.6, 1.75, 1.9, 2.0];
const blueFit  = [14.2, 16.0, 17.7, 19.4, 21.1, 22.7, 24.3, 25.8, 27.3, 28.6, 29.9, 31.1, 32.8, 34.3, 35.2, 36.1, 37.4, 38.4, 39.0];
const blueLow  = [9.3, 11.6, 14.0, 16.0, 17.5, 19.0, 20.0, 21.3, 22.7, 24.1, 25.4, 26.6, 28.0, 29.2, 29.9, 30.5, 30.5, 29.3, 28.0];
const blueHigh = [19.2, 19.9, 20.9, 22.2, 23.8, 25.5, 27.1, 28.8, 30.5, 32.2, 33.9, 35.3, 37.2, 38.9, 40.2, 41.8, 44.3, 47.8, 50.6];

const redData = [...redUpper, ...redLower, ...redZeroX.map(x => [x, 0])];
const redBand = redFitX.map((x, i) => ({x, fit: redFit[i], lo: redLow[i], hi: redHigh[i]}));
const blueBand = blueFitX.map((x, i) => ({x, fit: blueFit[i], lo: blueLow[i], hi: blueHigh[i]}));

const font = "'Liberation Sans', Arial, Helvetica, sans-serif";

const chart = Plot.plot({
  width: 906,
  height: 615,
  marginLeft: 70,
  marginRight: 1,
  marginTop: 15,
  marginBottom: 68,
  x: {domain: [-2, 2]},
  y: {domain: [0, 50]},
  style: {fontFamily: font, fontSize: "23px", background: "white", overflow: "visible"},
  marks: [
    Plot.gridX(xMinor, {stroke: "#EBEBEB", strokeOpacity: 1, strokeWidth: 0.6}),
    Plot.gridY(yMinor, {stroke: "#EBEBEB", strokeOpacity: 1, strokeWidth: 0.6}),
    Plot.gridX(xTicks, {stroke: "#EBEBEB", strokeOpacity: 1, strokeWidth: 1.2}),
    Plot.gridY(yTicks, {stroke: "#EBEBEB", strokeOpacity: 1, strokeWidth: 1.2}),
    Plot.dot(redData, {x: d => d[0], y: d => d[1], r: 4.4, fill: "#E94A2A", fillOpacity: 0.5, clip: true}),
    Plot.dot(bluePts, {x: d => d[0], y: d => d[1], r: 4.4, fill: "#4A6FEA", fillOpacity: 0.5, clip: true}),
    Plot.areaY(redBand, {x: "x", y1: "lo", y2: "hi", fill: "#FF0000", fillOpacity: 0.55, curve: "natural", clip: true}),
    Plot.areaY(blueBand, {x: "x", y1: "lo", y2: "hi", fill: "#0000FF", fillOpacity: 0.4, curve: "natural", clip: true}),
    Plot.ruleX([0], {stroke: "black", strokeWidth: 2}),
    Plot.line(redBand, {x: "x", y: "fit", stroke: "#1A1A1A", strokeWidth: 5, curve: "natural", clip: true}),
    Plot.line(blueBand, {x: "x", y: "fit", stroke: "#1A1A1A", strokeWidth: 5, curve: "natural", clip: true}),
    Plot.frame({stroke: "#333333", strokeWidth: 1.1}),
    Plot.axisX(xTicks, {tickSize: 5, tickPadding: 7, tickFormat: d => String(d), stroke: "#333333", fill: "#4D4D4D", label: null, fontSize: 23}),
    Plot.axisY(yTicks, {tickSize: 5, tickPadding: 4, tickFormat: d => String(d), stroke: "#333333", fill: "#4D4D4D", label: null, fontSize: 23}),
    Plot.text([xTitle], {text: d => d, frameAnchor: "bottom", dy: 54.5, fontSize: 23.5, fill: "black"}),
    Plot.text([yTitle], {text: d => d, frameAnchor: "left", dx: -49, rotate: -90, fontSize: 23.5, fill: "black"})
  ]
});
document.getElementById("chart").appendChild(chart);
</script>
</body></html>
